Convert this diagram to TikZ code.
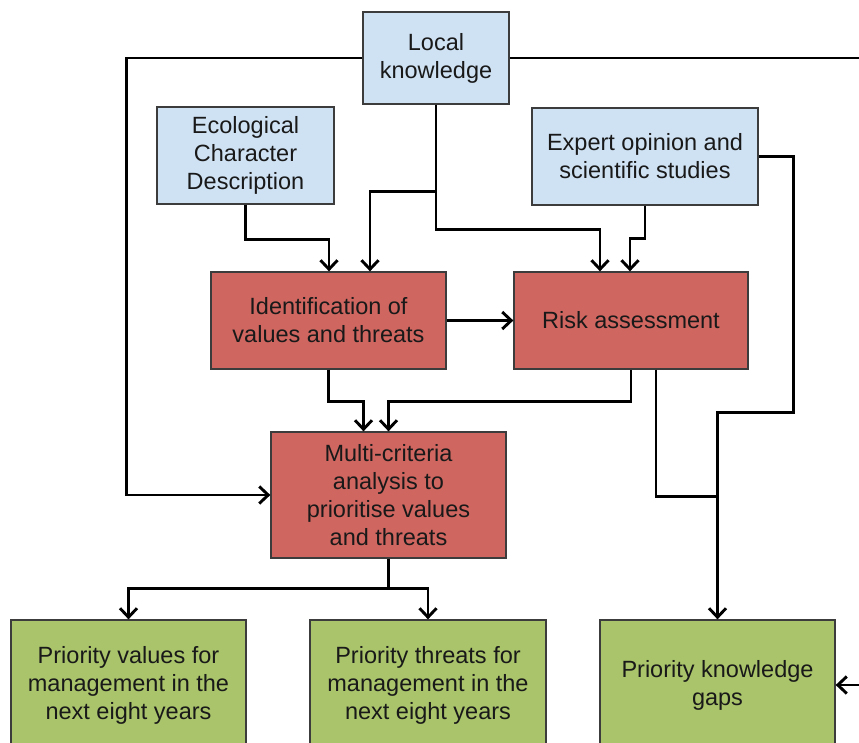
\documentclass[tikz,border=0pt]{standalone}
\usepackage{fontspec}
\setmainfont{Liberation Sans}
\usetikzlibrary{arrows.meta}

\definecolor{inputblue}{RGB}{207,226,243}
\definecolor{stepred}{RGB}{207,102,96}
\definecolor{outgreen}{RGB}{169,196,106}
\definecolor{boxline}{RGB}{60,60,60}

\tikzset{
  box/.style={draw=boxline, line width=1.3pt, align=center, inner sep=0pt,
    text=black!90, font=\fontsize{23.5}{28}\selectfont},
  inputbox/.style={box, fill=inputblue},
  stepbox/.style={box, fill=stepred},
  outbox/.style={box, fill=outgreen},
  conn/.style={line width=2.9pt, -{Straight Barb[length=9pt,width=17pt]}},
  wire/.style={line width=2.9pt}
}

\begin{document}
\begin{tikzpicture}[x=1pt,y=-1pt]

\useasboundingbox (0,0) rectangle (859,742);

% inputs
\node[inputbox, minimum width=146pt, minimum height=92pt] (local) at (436,58) {Local\\knowledge};
\node[inputbox, minimum width=177pt, minimum height=97pt] (eco) at (245.5,155.5) {Ecological\\Character\\Description};
\node[inputbox, minimum width=226pt, minimum height=97pt] (expert) at (645,156.5) {Expert opinion and\\scientific studies};

% analysis steps
\node[stepbox, minimum width=235pt, minimum height=97pt] (ident) at (328.5,320.5) {Identification of\\values and threats};
\node[stepbox, minimum width=234pt, minimum height=97pt] (risk) at (631,320.5) {Risk assessment};
\node[stepbox, minimum width=235pt, minimum height=126pt] (multi) at (388.5,495) {Multi-criteria\\analysis to\\prioritise values\\and threats};

% outputs
\node[outbox, minimum width=235pt, minimum height=130pt] (pval) at (128.5,685) {Priority values for\\management in the\\next eight years};
\node[outbox, minimum width=236pt, minimum height=130pt] (pthreat) at (428,685) {Priority threats for\\management in the\\next eight years};
\node[outbox, minimum width=235pt, minimum height=130pt] (gaps) at (717.5,685) {Priority knowledge\\gaps};

% local knowledge
\draw[conn] (local.west) -- ++(-236,0) |- (multi.west);
\draw[conn] (local.east) -- ++(380,0) |- (gaps.east);
\draw[conn] (local.south) -- ++(0,87) -| ([xshift=41.5pt]ident.north);
\draw[conn] (local.south) -- ++(0,125) -| ([xshift=-31pt]risk.north);

% ecological character
\draw[conn] (eco.south) -- ++(0,35) -| ([xshift=0.5pt]ident.north);

% expert opinion
\draw[conn] (expert.south) -- ++(0,33) -| ([xshift=-1pt]risk.north);
\draw[conn] (expert.east) -- ++(35,0) -- ++(0,256) -| (gaps.north);

% values and threats into risk assessment
\draw[conn] (ident) -- (risk);

% into multi-criteria analysis
\draw[conn] (ident.south) -- ++(0,32) -| ([xshift=-25pt]multi.north);
\draw[conn] (risk.south) -- ++(0,32) -| (multi.north);

% risk assessment into knowledge gaps
\draw[wire] ([xshift=25pt]risk.south) -- ++(0,127) coordinate (bend) -- (bend -| gaps.north);

% priorities
\draw[wire] (multi.south) -- ++(0,30) coordinate (split);
\draw[conn] (split) -| (pval.north);
\draw[conn] (split) -| (pthreat.north);

\end{tikzpicture}
\end{document}
